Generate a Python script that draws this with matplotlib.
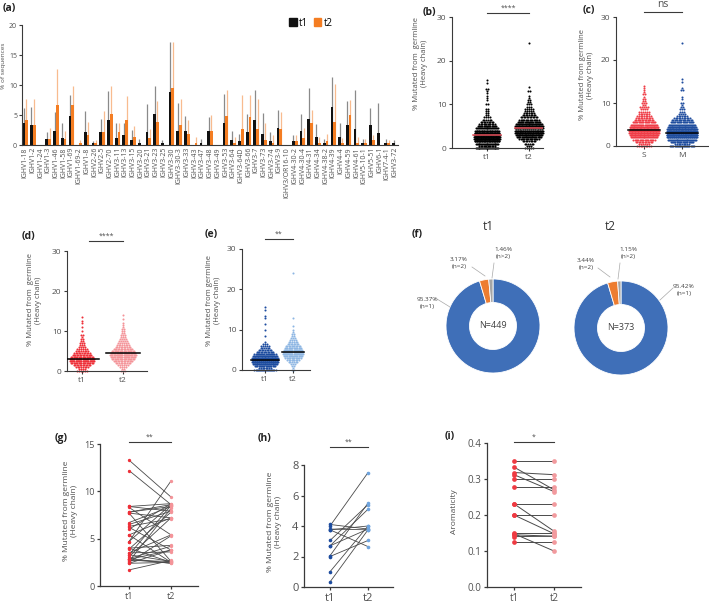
import numpy as np
import matplotlib
matplotlib.use("Agg")
import matplotlib.pyplot as plt
from matplotlib.patches import Patch
from matplotlib.transforms import blended_transform_factory

plt.rcParams["font.family"] = ["Open Sans", "DejaVu Sans"]

W, H = 709, 606
AX = "#3a3a3a"
TXT = "#505050"

# ---------------- (a) IGHV gene usage, mean and upper error ----------------
genes = ["IGHV1-18", "IGHV1-2", "IGHV1-24", "IGHV1-3", "IGHV1-46", "IGHV1-58", "IGHV1-69",
         "IGHV1-69-2", "IGHV1-8", "IGHV2-26", "IGHV2-5", "IGHV2-70", "IGHV3-11", "IGHV3-13",
         "IGHV3-15", "IGHV3-20", "IGHV3-21", "IGHV3-23", "IGHV3-25", "IGHV3-30", "IGHV3-30-3",
         "IGHV3-33", "IGHV3-43", "IGHV3-47", "IGHV3-48", "IGHV3-49", "IGHV3-53", "IGHV3-64",
         "IGHV3-64D", "IGHV3-66", "IGHV3-7", "IGHV3-73", "IGHV3-74", "IGHV3-9", "IGHV3/OR16-10",
         "IGHV4-30-2", "IGHV4-30-4", "IGHV4-31", "IGHV4-34", "IGHV4-38-2", "IGHV4-39", "IGHV4-4",
         "IGHV4-59", "IGHV4-61", "IGHV5-10-1", "IGHV5-51", "IGHV6-1", "IGHV7-4-1", "IGHV3-72"]
t1_mean = [3.6, 3.3, 0, 1.0, 2.3, 1.1, 4.9, 0, 2.2, 0.3, 2.1, 4.1, 1.2, 1.7, 0.8, 0.3, 2.2, 5.1,
           0.3, 8.9, 2.4, 2.4, 0, 0.3, 2.4, 0, 3.6, 0.9, 0.6, 2.1, 4.2, 1.9, 0.6, 2.8, 0, 0.7,
           2.3, 4.4, 1.4, 0.3, 6.3, 1.4, 3.4, 2.7, 0.3, 3.3, 2.0, 0.3, 0.3]
t1_top = [6.1, 6.4, 0, 2.2, 5.5, 3.6, 8.3, 0, 5.7, 0.7, 4.4, 9.0, 3.6, 3.6, 2.5, 1.0, 6.8, 9.8,
          0.8, 17.1, 7.0, 4.8, 0, 1.0, 4.7, 0, 8.5, 2.4, 1.8, 5.2, 9.2, 5.3, 2.1, 5.8, 0, 1.7,
          5.2, 9.5, 3.5, 1.0, 11.4, 3.7, 7.3, 9.2, 1.0, 6.2, 7.0, 1.0, 0.8]
t2_mean = [4.2, 3.3, 0, 1.0, 6.7, 1.0, 6.6, 0.3, 1.7, 0.3, 2.1, 5.1, 2.1, 4.2, 1.4, 0, 1.1, 3.9,
           0, 9.5, 3.4, 1.8, 0.3, 0, 2.3, 0, 4.9, 0.4, 2.6, 4.6, 2.7, 0.8, 0.3, 2.7, 0, 0.6,
           1.2, 3.6, 0.4, 0.7, 3.8, 0.4, 5.0, 0.4, 0.3, 0.8, 0, 0.3, 0]
t2_top = [7.7, 7.6, 0, 2.9, 12.6, 2.4, 9.8, 0.9, 3.8, 0.9, 5.7, 9.8, 3.7, 8.2, 3.2, 0, 2.6, 7.4,
          0, 17.1, 7.6, 4.2, 1.3, 0, 5.0, 0, 9.1, 1.3, 8.4, 8.3, 7.6, 3.6, 1.6, 5.5, 0, 1.6,
          2.9, 5.8, 1.3, 1.8, 10.2, 1.2, 7.5, 1.3, 1.0, 1.7, 0, 0.8, 0]

# ---------------- (b)-(e) mutation %, counts per level ----------------
d_t1_vals = [0, 0.5, 1, 1.5, 2, 2.5, 3, 3.5, 4, 4.5, 5, 5.5, 6, 6.5, 7, 7.5, 8, 8.5, 9, 10, 11, 12, 12.5, 13.5]
d_t1_counts = [6, 4, 8, 12, 18, 22, 22, 18, 14, 11, 8, 6, 4, 3, 3, 2, 2, 1, 2, 1, 1, 1, 1, 1]
d_t2_vals = [0, 0.5, 1, 1.5, 2, 2.5, 3, 3.5, 4, 4.5, 5, 5.5, 6, 6.5, 7, 7.5, 8, 8.5, 9, 9.5, 10,
             10.5, 11, 11.5, 12, 13, 14]
d_t2_counts = [3, 2, 4, 6, 10, 14, 18, 22, 24, 22, 18, 14, 10, 8, 6, 5, 4, 3, 3, 2, 2, 2, 1, 1, 1, 1, 1]
e_t1_vals = [0, 0.5, 1, 1.5, 2, 2.5, 3, 3.5, 4, 4.5, 5, 5.5, 6, 6.5, 7, 8.5, 10, 11.5, 13, 13.5, 15, 15.5]
e_t1_counts = [20, 8, 18, 28, 40, 40, 34, 26, 20, 13, 9, 6, 5, 3, 1, 1, 1, 1, 1, 1, 1, 1]
e_t2_vals = [0, 0.5, 1, 1.5, 2, 2.5, 3, 3.5, 4, 4.5, 5, 5.5, 6, 6.5, 7, 7.5, 8, 8.5, 9, 9.5, 10, 11, 13, 24]
e_t2_counts = [2, 1, 2, 3, 6, 9, 13, 17, 20, 20, 18, 14, 11, 8, 6, 4, 3, 2, 2, 1, 1, 1, 1, 1]

# ---------------- (f) clonal expansion donuts ----------------
clone_labels = ["(n=1)", "(n=2)", "(n>2)"]
f_t1_pct = [95.37, 3.17, 1.46]
f_t2_pct = [95.42, 3.44, 1.15]
f_n = [449, 373]

# ---------------- (g)-(i) paired values ----------------
g_t1 = [13.3, 12.2, 8.4, 8.4, 8.3, 7.8, 7.8, 7.7, 7.7, 6.7, 6.5, 6.3, 6.2, 6.0, 5.4, 5.4, 4.7, 4.7,
        4.0, 4.0, 3.9, 3.5, 3.5, 3.3, 3.1, 2.9, 2.8, 2.8, 2.7, 2.6, 2.5, 2.4, 2.4, 1.7, 2.9, 3.3]
g_t2 = [9.4, 8.6, 8.7, 7.9, 5.4, 8.6, 8.4, 7.2, 2.6, 8.4, 7.9, 7.1, 3.8, 8.7, 7.2, 2.5, 8.6, 11.1,
        4.3, 2.5, 7.8, 3.6, 5.4, 2.6, 7.2, 4.2, 2.4, 3.8, 2.6, 8.2, 5.3, 2.5, 3.8, 2.7, 2.4, 8.5]
h_t1 = [4.1, 4.0, 3.8, 3.75, 3.05, 2.7, 2.05, 2.0, 1.0, 0.33, 3.75, 2.7]
h_t2 = [3.8, 7.5, 3.75, 4.0, 5.4, 5.1, 5.5, 3.05, 4.0, 3.75, 2.65, 3.8]
i_t1 = [0.35, 0.333, 0.318, 0.312, 0.30, 0.278, 0.231, 0.231, 0.20, 0.20, 0.15, 0.145, 0.14, 0.148, 0.125]
i_t2 = [0.35, 0.27, 0.312, 0.265, 0.30, 0.278, 0.231, 0.155, 0.20, 0.148, 0.15, 0.141, 0.141, 0.10, 0.125]

RED, PINK = "#ee2f38", "#f49499"
DBLUE, LBLUE = "#1d4c9f", "#8db6e3"
HBLUE = "#6fa4de"

fig = plt.figure(figsize=(W / 100, H / 100), dpi=100)


def box(l, t, r, b):
    return [l / W, 1 - b / H, (r - l) / W, (b - t) / H]


def style(ax, lw=0.8, size=6):
    for s in ("top", "right"):
        ax.spines[s].set_visible(False)
    for s in ("left", "bottom"):
        ax.spines[s].set_color(AX)
        ax.spines[s].set_linewidth(lw)
    ax.tick_params(colors=AX, labelcolor=TXT, labelsize=size, width=lw, length=2.5, pad=1.5)


def cat_axes(l, t, r, b, p1, p2, ymax, yticks, size=6, lw=0.8):
    ax = fig.add_axes(box(l, t, r, b))
    ppu = p2 - p1
    ax.set_xlim((l - p1) / ppu, (r - p1) / ppu)
    ax.set_ylim(0, ymax)
    ax.set_yticks(yticks)
    style(ax, lw, size)
    return ax, ppu


def panel_label(x, y, s):
    fig.text(x / W, 1 - y / H, s, fontsize=7.5, fontweight="bold", va="center", ha="left", color="#222")


def ylab(x, y, s, size=5.5):
    fig.text(x / W, 1 - y / H, s, rotation=90, fontsize=size, color=TXT,
             ha="center", va="center", multialignment="center")


def bracket(ax, x0, x1, yfrac, s, size=5):
    tr = blended_transform_factory(ax.transData, ax.transAxes)
    ax.plot([x0, x1], [yfrac, yfrac], color=AX, lw=0.8, transform=tr, clip_on=False)
    ax.text((x0 + x1) / 2, yfrac + 0.012, s, transform=tr, ha="center", va="bottom",
            fontsize=size, color=TXT)


def points(vals, counts):
    return np.repeat(np.array(vals, float), counts)


def swarm(ax, pts, pos, color, ppu, half_px, med_color="black", med_px=None, gap_px=2.2):
    # each row widens with its count, saturating at the half width of the cloud
    xs, ys = [], []
    vals, counts = np.unique(pts, return_counts=True)
    for v, n in zip(vals, counts):
        width = 2 * half_px * (1 - np.exp(-n * gap_px / (2 * half_px)))
        step = width / n
        off = (np.arange(n) - (n - 1) / 2) * step / ppu
        xs.extend(pos + off)
        ys.extend([v] * n)
    ax.scatter(xs, ys, s=2.2, color=color, lw=0, zorder=2, clip_on=False)
    hw = (med_px if med_px else half_px + 2) / ppu
    med = np.median(pts)
    ax.plot([pos - hw, pos + hw], [med, med], color=med_color, lw=1.1, zorder=3)


# ---------------- (a) ----------------
ax = fig.add_axes(box(22, 25, 398, 145))
x = np.arange(len(genes))
bw = 0.36
ax.vlines(x - 0.18, 0, t1_top, color="#8a8a8a", lw=0.9, zorder=1)
ax.vlines(x + 0.18, 0, t2_top, color="#f8bb8f", lw=0.9, zorder=1)
ax.bar(x - 0.18, t1_mean, width=bw, color="#111111", zorder=2)
ax.bar(x + 0.18, t2_mean, width=bw, color="#f47d22", zorder=2)
ax.set_xlim(-0.4, len(genes) - 0.6)
ax.set_ylim(0, 20)
ax.set_yticks([0, 5, 10, 15, 20])
ax.set_xticks(x)
ax.set_xticklabels(genes, rotation=90, fontsize=4.5)
style(ax, 0.8, 5)
ax.tick_params(axis="y", pad=1)
ax.tick_params(axis="x", length=0, pad=1.5)
ax.legend(handles=[Patch(color="#111111", label="t1"), Patch(color="#f47d22", label="t2")],
          loc="lower left", bbox_to_anchor=(0.71, 0.97), ncol=2, frameon=False, fontsize=7,
          handlelength=0.8, handleheight=0.9, handletextpad=0.2, columnspacing=0.6,
          borderpad=0, borderaxespad=0)
ylab(4, 66, "% of sequences", 4.6)
panel_label(3, 9, "(a)")

# ---------------- (b) ----------------
b_t1 = np.concatenate([points(d_t1_vals, d_t1_counts), points(e_t1_vals, e_t1_counts)])
b_t2 = np.concatenate([points(d_t2_vals, d_t2_counts), points(e_t2_vals, e_t2_counts)])
ax, ppu = cat_axes(452, 17, 543, 148, 487, 529, 30, [0, 10, 20, 30])
swarm(ax, b_t1, 0, "black", ppu, 13, med_color="#e9525c", med_px=14)
swarm(ax, b_t2, 1, "black", ppu, 15, med_color="#e9525c", med_px=14)
ax.set_xticks([0, 1])
ax.set_xticklabels(["t1", "t2"])
bracket(ax, 0, 1, 1.031, "****")
ylab(420, 63, "% Mutated from  germline\n(Heavy chain)")
panel_label(423, 12, "(b)")

# ---------------- (c) ----------------
c_s = np.concatenate([points(d_t1_vals, d_t1_counts), points(d_t2_vals, d_t2_counts)])
c_m = np.concatenate([points(e_t1_vals, e_t1_counts), points(e_t2_vals, e_t2_counts)])
ax, ppu = cat_axes(616, 17, 708, 146, 644, 682, 30, [0, 10, 20, 30])
swarm(ax, c_s, 0, "#ef3d47", ppu, 16, med_px=16)
swarm(ax, c_m, 1, "#1f4d9e", ppu, 16, med_px=16)
ax.set_xticks([0, 1])
ax.set_xticklabels(["S", "M"])
bracket(ax, 0, 1, 1.039, "ns", 7.5)
ylab(586, 75, "% Mutated from germline\n(Heavy chain)")
panel_label(583, 11, "(c)")

# ---------------- (d) ----------------
ax, ppu = cat_axes(67, 251, 147, 371, 82, 123, 30, [0, 10, 20, 30])
swarm(ax, points(d_t1_vals, d_t1_counts), 0, RED, ppu, 17, med_px=17)
swarm(ax, points(d_t2_vals, d_t2_counts), 1, PINK, ppu, 17, med_px=17)
ax.set_xticks([0, 1])
ax.set_xticklabels(["t1", "t2"])
bracket(ax, 0.17, 1, 1.083, "****")
ylab(34, 300, "% Mutated from  germline\n(Heavy chain)")
panel_label(22, 236, "(d)")

# ---------------- (e) ----------------
ax, ppu = cat_axes(242, 249, 310, 370, 265, 293, 30, [0, 10, 20, 30])
swarm(ax, points(e_t1_vals, e_t1_counts), 0, DBLUE, ppu, 14, med_px=14)
swarm(ax, points(e_t2_vals, e_t2_counts), 1, LBLUE, ppu, 12, med_px=11)
ax.set_xticks([0, 1])
ax.set_xticklabels(["t1", "t2"])
bracket(ax, 0, 1, 1.083, "**")
ylab(214, 300, "% Mutated from germline\n(Heavy chain)")
panel_label(205, 235, "(e)")

# ---------------- (f) ----------------
ax = fig.add_axes(box(400, 222, 709, 390))
donut_colors = ["#3f6fb8", "#ed7d31", "#a5a5a5"]
centers = [(493, H - 326), (621, H - 328)]
for pct, (cx, cy), n in zip([f_t1_pct, f_t2_pct], centers, f_n):
    ax.pie(pct, colors=donut_colors, startangle=90, counterclock=False, radius=47,
           center=(cx, cy), frame=True,
           wedgeprops=dict(width=23.5, edgecolor="white", linewidth=0.6))
    ax.text(cx, cy, f"N={n}", ha="center", va="center", fontsize=6.5, color="#404040")
ax.set_xlim(400, 709)
ax.set_ylim(H - 390, H - 222)
ax.axis("off")

donut_notes = [
    (f_t1_pct[0], clone_labels[0], (427, 303), (437, 299), (450, 307)),
    (f_t1_pct[1], clone_labels[1], (459, 263), (472, 267), (485, 276)),
    (f_t1_pct[2], clone_labels[2], (503, 253), (494, 263), (492, 278)),
    (f_t2_pct[1], clone_labels[1], (586, 264), (598, 268), (610, 277)),
    (f_t2_pct[2], clone_labels[2], (628, 253), (620, 263), (618, 279)),
    (f_t2_pct[0], clone_labels[0], (684, 290), (673, 288), (660, 300)),
]
for p, lab, (tx, ty), (x0, y0), (x1, y1) in donut_notes:
    ax.text(tx, H - ty, f"{p:.2f}%\n{lab}", ha="center", va="center", fontsize=4.6,
            color="#404040", linespacing=1.5)
    ax.plot([x0, x1], [H - y0, H - y1], color="#a8a8a8", lw=0.5)
fig.text(488 / W, 1 - 226 / H, "t1", ha="center", va="center", fontsize=8.5, color="#333")
fig.text(610 / W, 1 - 226 / H, "t2", ha="center", va="center", fontsize=8.5, color="#333")
panel_label(412, 235, "(f)")


# ---------------- (g)-(i) ----------------
def paired(ax, a, b, c1, c2, ms, lw=0.6):
    for y0, y1 in zip(a, b):
        ax.plot([0, 1], [y0, y1], color="#4a4a4a", lw=lw, zorder=1)
    ax.plot(np.zeros(len(a)), a, "o", color=c1, ms=ms, mew=0, zorder=2, clip_on=False)
    ax.plot(np.ones(len(b)), b, "o", color=c2, ms=ms, mew=0, zorder=2, clip_on=False)
    ax.set_xticks([0, 1])
    ax.set_xticklabels(["t1", "t2"])


ax, ppu = cat_axes(100, 444, 198, 586, 129, 171, 15, [0, 5, 10, 15], size=6.5, lw=0.9)
paired(ax, g_t1, g_t2, RED, PINK, 2.4)
bracket(ax, 0, 1, 1.014, "**")
ylab(70, 511, "% Mutated from germline\n(Heavy chain)", 6)
panel_label(55, 438, "(g)")

ax, ppu = cat_axes(304, 465, 393, 587, 330, 368, 8, [0, 2, 4, 6, 8], size=8, lw=0.9)
paired(ax, h_t1, h_t2, DBLUE, HBLUE, 2.6)
bracket(ax, 0, 1, 1.148, "**")
ylab(274, 522, "% Mutated from germline\n(Heavy chain)", 6)
panel_label(258, 438, "(h)")

ax, ppu = cat_axes(487, 443, 581, 587, 514, 554, 0.4, [0, 0.1, 0.2, 0.3, 0.4], size=7, lw=0.9)
ax.set_yticklabels(["0.0", "0.1", "0.2", "0.3", "0.4"])
paired(ax, i_t1, i_t2, "#ee3a42", "#f29a9e", 3.4, lw=0.7)
bracket(ax, 0, 1, 1.007, "*")
ylab(455, 512, "Aromaticity", 6)
panel_label(445, 437, "(i)")

fig.savefig("out.png", dpi=100)
